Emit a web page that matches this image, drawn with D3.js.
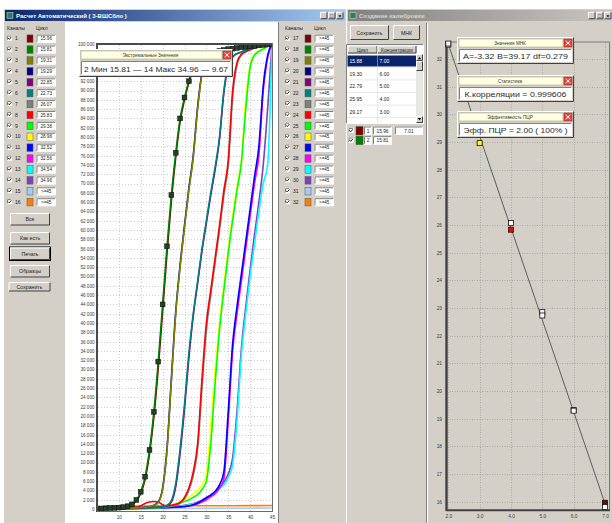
<!DOCTYPE html>
<html>
<head>
<meta charset="utf-8">
<script src="https://cdn.jsdelivr.net/npm/d3@7"></script>
<style>
  body { margin: 0; background: #ffffff; }
  svg { display: block; }
  text { font-family: "Liberation Sans", Arial, sans-serif; fill: #1a1a1a; }
</style>
</head>
<body>
<svg id="screen" width="612" height="523"></svg>
<script>
// ---------------- data ----------------
const channelsLeft  = [1, 2, 3, 4, 5, 6, 7, 8, 9, 10, 11, 12, 13, 14, 15, 16];
const channelsRight = [17, 18, 19, 20, 21, 22, 23, 24, 25, 26, 27, 28, 29, 30, 31, 32];
const channelColors = ['#800000', '#008000', '#808000', '#000080', '#800080', '#008080', '#808080', '#ff0000',
                       '#00ff00', '#ffff00', '#0000ff', '#ff00ff', '#00ffff', '#8040c0', '#a6caf0', '#ff8000'];
const ctLeft  = ['15.96', '15.81', '19.31', '19.29', '22.85', '22.73', '26.07', '25.83',
                 '29.38', '28.96', '32.52', '32.56', '34.54', '34.96', '>=45', '>=45'];
const ctRight = ['>=45', '>=45', '>=45', '>=45', '>=45', '>=45', '>=45', '>=45',
                 '>=45', '>=45', '>=45', '>=45', '>=45', '>=45', '>=45', '>=45'];

// normalised fluorescence per channel: [cycle, value]
const amp01 = [[5,0],[8,180],[10,280],[12,550],[13,900],[14,1750],[15,3400],[16,6400],[17,11900],[18,19800],[19,30300],[20,42500],[21,55000],[22,66300],[23,75700],[24,83300],[25,88000],[26,91700],[27,94700],[28,96400],[30,97700],[35,98800],[40,99400],[45,100000]];
const amp02 = [[5,0],[6,80],[7,150],[8,200],[9,250],[10,300],[11,400],[12,600],[13,1000],[14,1940],[15,3700],[16,6950],[17,12700],[18,20900],[19,31700],[20,44000],[21,56500],[22,67500],[23,76600],[24,84000],[25,88500],[26,92000],[27,95000],[28,96600],[29,97300],[30,97800],[31,98100],[32,98300],[33,98500],[34,98700],[35,98900],[36,99000],[37,99150],[38,99300],[39,99400],[40,99500],[41,99600],[42,99700],[43,99800],[44,99900],[45,100000]];
const amp03 = [[5,0],[10,120],[15,300],[17,500],[18,800],[19,1400],[20,4200],[21,12500],[22,27500],[23,42000],[24,52000],[25,60500],[26,68500],[27,75500],[28,86000],[29,93500],[30,96800],[32,98000],[35,98900],[40,99500],[45,100000]];
const amp04 = [[5,0],[10,100],[15,280],[17,480],[18,820],[19,1500],[20,4500],[21,13000],[22,28000],[23,42500],[24,52500],[25,61000],[26,69000],[27,76000],[28,86500],[29,93800],[30,96900],[32,98100],[35,98900],[40,99500],[45,100000]];
const amp05 = [[5,0],[15,200],[20,450],[21,700],[22,1500],[23,4800],[24,12000],[25,21500],[26,32500],[27,41500],[28,48500],[29,55500],[30,61500],[31,67500],[32,73000],[33,79500],[34,89500],[35,95200],[36,97200],[38,98300],[40,99000],[45,100000]];
const amp06 = [[5,0],[15,200],[20,500],[21,800],[22,1800],[23,5500],[24,13000],[25,22500],[26,33500],[27,42000],[28,49000],[29,56000],[30,62000],[31,68000],[32,73500],[33,80000],[34,90000],[35,95500],[36,97300],[38,98300],[40,99000],[45,100000]];
const amp07 = [[5,0],[10,150],[15,350],[20,500],[22,600],[23,800],[24,1200],[25,2200],[26,4000],[27,7200],[28,13000],[29,26000],[30,38500],[31,46000],[32,53000],[33,60000],[34,67500],[35,74000],[36,88500],[37,95500],[38,97600],[40,98700],[45,100000]];
const amp08 = [[5,0],[10,200],[14,400],[15,700],[16,1200],[17,1500],[18,1600],[19,1500],[20,900],[21,700],[22,800],[23,1000],[24,1400],[25,2500],[26,4500],[27,8000],[28,14000],[29,28000],[30,40000],[31,47000],[32,54000],[33,61000],[34,68500],[35,75000],[36,90000],[37,96000],[38,97800],[40,98800],[45,100000]];
const amp09 = [[5,0],[15,150],[20,350],[22,700],[24,1300],[26,2000],[27,2500],[28,3100],[29,4200],[30,6000],[31,14000],[32,27000],[33,38500],[34,47000],[35,55000],[36,62000],[37,68500],[38,74500],[39,86000],[40,95000],[41,97600],[43,98900],[45,100000]];
const amp10 = [[5,0],[15,200],[20,400],[21,600],[22,900],[23,1200],[24,1600],[25,2100],[26,2600],[27,3200],[28,4000],[29,5200],[30,7500],[31,18000],[32,30000],[33,40000],[34,48000],[35,56000],[36,63000],[37,69500],[38,75000],[39,88000],[40,95500],[41,97800],[43,99000],[45,100000]];
const amp11 = [[5,0],[15,150],[20,300],[25,550],[27,900],[28,1300],[29,1800],[30,2400],[31,3000],[32,3800],[33,5200],[34,8000],[35,21000],[36,35500],[37,43500],[38,50500],[39,57500],[40,64500],[41,71500],[42,78000],[43,91000],[44,97500],[45,100000]];
const amp12 = [[5,0],[15,150],[20,300],[25,500],[27,800],[28,1100],[29,1500],[30,2000],[31,2600],[32,3300],[33,4500],[34,6500],[35,19000],[36,34000],[37,42000],[38,49000],[39,56000],[40,63000],[41,70000],[42,76000],[43,90000],[44,97000],[45,100000]];
const amp13 = [[5,0],[15,100],[20,250],[23,450],[25,700],[27,1100],[29,1700],[30,2300],[31,2800],[32,3500],[33,4300],[34,5200],[35,6800],[36,9500],[37,19000],[38,33000],[39,42000],[40,50000],[41,57000],[42,64000],[43,70000],[44,74000],[45,100000]];
const amp14 = [[5,0],[15,120],[20,280],[23,500],[25,800],[27,1200],[29,1900],[30,2500],[31,3000],[32,3700],[33,4600],[34,5800],[35,7500],[36,11000],[37,21000],[38,34500],[39,43500],[40,51500],[41,59000],[42,66000],[43,74000],[44,86000],[45,100000]];
const amp15 = [[5,0],[15,50],[25,100],[35,150],[45,200]];
const amp16 = [[5,600],[15,650],[25,700],[35,700],[45,750]];
const ampSeries = [amp01, amp02, amp03, amp04, amp05, amp06, amp07, amp08, amp09, amp10, amp11, amp12, amp13, amp14, amp15, amp16];
const drawOrder = [16, 15, 14, 13, 12, 11, 10, 9, 7, 8, 5, 6, 4, 3, 1, 2];
const markedChannel = 2;

const cycleTicks = [10, 15, 20, 25, 30, 35, 40, 45];
const extremeText = '2 Мин 15.81 — 14 Макс 34.96 — 9.67';

// calibration (standards)
const stdCycle = [15.88, 19.30, 22.79, 25.95, 29.17, 32.54];
const stdConc  = [7, 6, 5, 4, 3, 2];
const pointChannel = [1, 2, 3, 4, 5, 6, 7, 8, 9, 10, 11, 12];
const pointConc    = [7, 7, 6, 6, 5, 5, 4, 4, 3, 3, 2, 2];
const pointCycle   = [15.96, 15.81, 19.31, 19.29, 22.85, 22.73, 26.07, 25.83, 29.38, 28.96, 32.52, 32.56];
const filledPoints = [1, 8, 9, 10];
const fitA = -3.32, fitB = 39.17, fitDf = 0.279;
const correlation = '0.999606';
const efficiency = '2.00', efficiencyPct = '100%';
const concTicks = [2, 3, 4, 5, 6, 7];
const calCycleTicks = [16, 17, 18, 19, 20, 21, 22, 23, 24, 25, 26, 27, 28, 29, 30, 31, 32];
const sampleRows = [{ ch: 1, ct: '15.96', conc: '7.01' }, { ch: 2, ct: '15.81', conc: '' }];

// ---------------- helpers ----------------
const face = '#d4d0c8', shadow = '#808080', dark = '#404040', hi = '#ffffff';
const svg = d3.select('#screen');
const defs = svg.append('defs');

function bevel(g, x, y, w, h, mode, fill) {
  const r = g.append('g');
  r.append('rect').attr('x', x).attr('y', y).attr('width', w).attr('height', h).attr('fill', fill || face);
  const tl = mode === 'sunken' ? shadow : hi;
  const br = mode === 'sunken' ? hi : dark;
  r.append('path').attr('d', `M${x + .5},${y + h - .5}V${y + .5}H${x + w - .5}`).attr('fill', 'none').attr('stroke', tl);
  r.append('path').attr('d', `M${x + .5},${y + h - .5}H${x + w - .5}V${y + .5}`).attr('fill', 'none').attr('stroke', br);
  return r;
}
function label(g, x, y, str, size, anchor, color, weight) {
  return g.append('text').attr('x', x).attr('y', y).attr('font-size', size)
    .attr('text-anchor', anchor || 'start').style('fill', color || '#1a1a1a')
    .attr('font-weight', weight || 'normal').text(str);
}
function button(g, x, y, w, h, str, isDefault) {
  if (isDefault) g.append('rect').attr('x', x - .5).attr('y', y - .5).attr('width', w + 1).attr('height', h + 1)
    .attr('fill', 'none').attr('stroke', '#000');
  bevel(g, x, y, w, h, 'raised');
  label(g, x + w / 2, y + h / 2 + 2, str, 5.2, 'middle');
}
function checkbox(g, x, y) {
  bevel(g, x, y, 5, 5, 'sunken', '#ffffff');
  g.append('path').attr('d', `M${x + 1},${y + 2.4}l1.3,1.4l2.1,-2.6`).attr('fill', 'none')
    .attr('stroke', '#000').attr('stroke-width', .8);
}
function titleButtons(g, x, y) {
  ['_', '□', '×'].forEach((s, i) => {
    bevel(g, x + i * 8, y, 7.5, 7.5, 'raised');
    label(g, x + i * 8 + 3.75, y + 6, s, 5.5, 'middle', '#000', 'bold');
  });
}
function popup(g, x, y, w, h, title, body, bodyWidth) {
  bevel(g, x, y, w, h, 'raised');
  g.append('rect').attr('x', x + 2).attr('y', y + 2).attr('width', w - 13).attr('height', 8)
    .attr('fill', '#ffffe1').attr('stroke', '#9a9a8a').attr('stroke-width', .5);
  label(g, x + (w - 11) / 2, y + 8, title, 4.6, 'middle', '#333');
  g.append('rect').attr('x', x + w - 10).attr('y', y + 2).attr('width', 8).attr('height', 8).attr('fill', '#e8473f')
    .attr('stroke', '#8a1a10').attr('stroke-width', .5);
  g.append('path').attr('d', `M${x + w - 8.3},${y + 3.7}l4.6,4.6M${x + w - 3.7},${y + 3.7}l-4.6,4.6`)
    .attr('stroke', '#fff').attr('stroke-width', 1);
  bevel(g, x + 2, y + 12, w - 4, h - 14, 'sunken', '#ffffff');
  label(g, x + w / 2, y + h - 4.6, body, 8, 'middle', '#2a2a2a')
    .attr('textLength', bodyWidth).attr('lengthAdjust', 'spacingAndGlyphs');
}
function titleBar(g, x, y, w, h, id, c0, c1, str, color) {
  const gr = defs.append('linearGradient').attr('id', id);
  gr.append('stop').attr('offset', '0%').attr('stop-color', c0);
  gr.append('stop').attr('offset', '100%').attr('stop-color', c1);
  g.append('rect').attr('x', x).attr('y', y).attr('width', w).attr('height', h).attr('fill', `url(#${id})`);
  g.append('rect').attr('x', x + 2).attr('y', y + 2.5).attr('width', 6).attr('height', 6).attr('fill', '#2f7f5f')
    .attr('stroke', '#cfe8d0').attr('stroke-width', .5);
  label(g, x + 11, y + 8, str, 6, 'start', color, 'bold');
}

// ---------------- left window ----------------
const win1 = svg.append('g');
bevel(win1, 3, 8, 344, 516, 'raised');
titleBar(win1, 5, 10, 340, 11, 'tb1', '#0a246a', '#a6caf0', 'Расчет Автоматический ( 3-ВШСбло )', '#ffffff');
titleButtons(win1, 320, 11.8);

// channel lists
function channelPanel(g, x0, nums, cts, colors) {
  label(g, x0, 29.5, 'Каналы', 5, 'start', '#222');
  label(g, x0 + 29, 29.5, 'Цикл', 5, 'start', '#222');
  nums.forEach((n, i) => {
    const cy = 38.3 + i * 10.9;
    checkbox(g, x0, cy - 2.7);
    label(g, x0 + 8, cy + 2, String(n), 5, 'start', '#222');
    g.append('rect').attr('x', x0 + 20).attr('y', cy - 3.4).attr('width', 6).attr('height', 7.5)
      .attr('fill', colors[i]).attr('stroke', '#555').attr('stroke-width', .5);
    bevel(g, x0 + 29.5, cy - 3.6, 19.5, 8, 'sunken', '#ffffff');
    label(g, x0 + 39.2, cy + 2, cts[i], 4.6, 'middle', '#222');
  });
}
channelPanel(win1, 7, channelsLeft, ctLeft, channelColors);
channelPanel(win1, 285, channelsRight, ctRight, channelColors);

button(win1, 10, 213, 40, 12.5, 'Все');
button(win1, 10, 232, 40, 12.5, 'Как есть');
button(win1, 10, 247.5, 40, 12.5, 'Печать', true);
button(win1, 10, 265, 40, 12.5, 'Образцы');
button(win1, 8.5, 282, 42, 9.5, 'Сохранить');

// chart area
win1.append('rect').attr('x', 65).attr('y', 22).attr('width', 213).attr('height', 502).attr('fill', '#ffffff');
win1.append('line').attr('x1', 278.5).attr('x2', 278.5).attr('y1', 22).attr('y2', 523).attr('stroke', shadow);

const xL = d3.scaleLinear().domain([5, 45]).range([97, 272]);
const yL = d3.scaleLinear().domain([0, 100000]).range([509, 44]);
const yTicksL = d3.range(0, 100001, 2000);
const numFmt = v => v === 0 ? '0' : d3.format(',')(v).replace(/,/g, ' ');
// the popup below sits over these labels
const popupBox = { x: 79, y: 49, w: 154, h: 28 };
const yLabelTicks = yTicksL.filter(v => yL(v) < popupBox.y - 3 || yL(v) > popupBox.y + popupBox.h + 3);

const grid = win1.append('g');
grid.selectAll('line.h').data(yTicksL.slice(1, -1)).join('line').attr('class', 'h')
  .attr('x1', 98).attr('x2', 272).attr('y1', d => Math.round(yL(d)) + .5).attr('y2', d => Math.round(yL(d)) + .5)
  .attr('stroke', '#9a9a9a').attr('stroke-width', .5).attr('stroke-dasharray', '1,2');
grid.selectAll('line.v').data(cycleTicks.slice(0, -1)).join('line').attr('class', 'v')
  .attr('y1', 45).attr('y2', 511).attr('x1', d => Math.round(xL(d)) + .5).attr('x2', d => Math.round(xL(d)) + .5)
  .attr('stroke', '#9a9a9a').attr('stroke-width', .5).attr('stroke-dasharray', '1,2');

const yAxisL = win1.append('g').attr('transform', 'translate(96,0)')
  .call(d3.axisLeft(yL).tickValues(yLabelTicks).tickSize(0).tickPadding(1.5).tickFormat(numFmt));
yAxisL.select('.domain').remove();
yAxisL.selectAll('text').attr('font-size', 4.6).style('fill', '#3a3a3a')
  .attr('font-family', '"Liberation Sans", Arial, sans-serif');

const xAxisL = win1.append('g').attr('transform', 'translate(0,512)')
  .call(d3.axisBottom(xL).tickValues(cycleTicks).tickSize(0).tickPadding(3.5));
xAxisL.select('.domain').remove();
xAxisL.selectAll('text').attr('font-size', 4.8).style('fill', '#3a3a3a')
  .attr('font-family', '"Liberation Sans", Arial, sans-serif');

defs.append('clipPath').attr('id', 'clipL').append('rect').attr('x', 97).attr('y', 43).attr('width', 176).attr('height', 469);
const curves = win1.append('g').attr('clip-path', 'url(#clipL)');
const lineL = d3.line().x(d => xL(d[0])).y(d => yL(d[1])).curve(d3.curveMonotoneX);
drawOrder.forEach(ch => {
  curves.append('path').datum(ampSeries[ch - 1]).attr('d', lineL).attr('fill', 'none')
    .attr('stroke', channelColors[ch - 1]).attr('stroke-width', 1.6);
});
curves.selectAll('rect.mk').data(ampSeries[markedChannel - 1]).join('rect').attr('class', 'mk')
  .attr('x', d => xL(d[0]) - 2.4).attr('y', d => yL(d[1]) - 2.4).attr('width', 4.8).attr('height', 4.8)
  .attr('fill', '#24402a').attr('stroke', '#0a0a0a').attr('stroke-width', .5);

// plot frame
win1.append('line').attr('x1', 97).attr('x2', 97).attr('y1', 43).attr('y2', 512).attr('stroke', '#4a4a4a').attr('stroke-width', 2);
win1.append('line').attr('x1', 96).attr('x2', 273).attr('y1', 44).attr('y2', 44).attr('stroke', '#4a4a4a').attr('stroke-width', 2);
win1.append('line').attr('x1', 272.5).attr('x2', 272.5).attr('y1', 43).attr('y2', 512).attr('stroke', '#6a6a6a');
win1.append('line').attr('x1', 97).attr('x2', 273).attr('y1', 511.5).attr('y2', 511.5).attr('stroke', '#6a6a6a');

popup(win1, popupBox.x, popupBox.y, popupBox.w, popupBox.h, 'Экстремальные Значения', extremeText, 144);

// ---------------- right window ----------------
const win2 = svg.append('g');
bevel(win2, 346, 8, 268, 516, 'raised');
titleBar(win2, 348, 10, 264, 11, 'tb2', '#808080', '#c8c6c0', 'Создание калибровки', '#d8d6d0');
titleButtons(win2, 588, 11.8);

button(win2, 350, 25, 39, 15, 'Сохранить');
button(win2, 393, 25, 27, 15, 'МНК');

// standards table
bevel(win2, 346, 44, 78, 80, 'sunken', '#ffffff');
bevel(win2, 347.5, 45.5, 30, 8, 'raised');
bevel(win2, 377.5, 45.5, 39, 8, 'raised');
label(win2, 362.5, 51.5, 'Цикл', 4.8, 'middle', '#222');
label(win2, 397, 51.5, 'Концентрации', 4.8, 'middle', '#222');
const rowFmt = d3.format('.2f');
stdCycle.slice(0, 5).forEach((c, i) => {
  const ry = 55.5 + i * 12.6;
  if (i === 0) win2.append('rect').attr('x', 347.5).attr('y', ry).attr('width', 68.5).attr('height', 11).attr('fill', '#0a246a');
  const col = i === 0 ? '#ffffff' : '#222';
  label(win2, 349.5, ry + 7.6, rowFmt(c), 5, 'start', col);
  label(win2, 379.5, ry + 7.6, rowFmt(stdConc[i]), 5, 'start', col);
  win2.append('line').attr('x1', 347.5).attr('x2', 416).attr('y1', ry + 11.8).attr('y2', ry + 11.8).attr('stroke', '#d0d0d0').attr('stroke-width', .5);
});
win2.append('line').attr('x1', 377.5).attr('x2', 377.5).attr('y1', 54).attr('y2', 123).attr('stroke', '#d0d0d0').attr('stroke-width', .5);
win2.append('rect').attr('x', 416).attr('y', 54).attr('width', 7).attr('height', 69).attr('fill', '#e9e7e2');
bevel(win2, 416, 54, 7, 7, 'raised');
bevel(win2, 416, 61, 7, 10, 'raised');
bevel(win2, 416, 116, 7, 7, 'raised');
win2.append('path').attr('d', 'M417.8,59.2h3.4l-1.7,-2.2z').attr('fill', '#000');
win2.append('path').attr('d', 'M417.8,118h3.4l-1.7,2.2z').attr('fill', '#000');

sampleRows.forEach((r, i) => {
  const ry = 126.5 + i * 9.6;
  checkbox(win2, 348.5, ry + 1.5);
  win2.append('rect').attr('x', 356).attr('y', ry).attr('width', 7).attr('height', 8.5)
    .attr('fill', channelColors[r.ch - 1]).attr('stroke', '#555').attr('stroke-width', .5);
  bevel(win2, 364, ry, 8, 8.5, 'sunken', '#ffffff');
  label(win2, 368, ry + 6.2, String(r.ch), 4.8, 'middle', '#222');
  bevel(win2, 373, ry, 19, 8.5, 'sunken', '#ffffff');
  label(win2, 382.5, ry + 6.2, r.ct, 4.8, 'middle', '#222');
  if (r.conc) {
    bevel(win2, 395, ry, 28, 8.5, 'sunken', '#ffffff');
    label(win2, 409, ry + 6.2, r.conc, 4.8, 'middle', '#222');
  }
});

// calibration chart panel
win2.append('line').attr('x1', 426.5).attr('x2', 426.5).attr('y1', 23).attr('y2', 523).attr('stroke', shadow);
win2.append('line').attr('x1', 427.5).attr('x2', 427.5).attr('y1', 23).attr('y2', 523).attr('stroke', hi);

const xR = d3.scaleLinear().domain([2, 7]).range([448.3, 605]);
const yR = d3.scaleLinear().domain([16, 32]).range([501.7, 59]);
const gridR = win2.append('g');
gridR.selectAll('line.h').data(calCycleTicks).join('line').attr('class', 'h')
  .attr('x1', 447).attr('x2', 609).attr('y1', d => Math.round(yR(d)) + .5).attr('y2', d => Math.round(yR(d)) + .5)
  .attr('stroke', '#8e8e8e').attr('stroke-width', .6).attr('stroke-dasharray', '1,1.5');
gridR.selectAll('line.v').data(concTicks).join('line').attr('class', 'v')
  .attr('y1', 42).attr('y2', 510).attr('x1', d => Math.round(xR(d)) + .5).attr('x2', d => Math.round(xR(d)) + .5)
  .attr('stroke', '#8e8e8e').attr('stroke-width', .6).attr('stroke-dasharray', '1,1.5');

const yAxisR = win2.append('g').attr('transform', 'translate(442,0)')
  .call(d3.axisLeft(yR).tickValues(calCycleTicks).tickSize(0).tickPadding(0));
yAxisR.select('.domain').remove();
yAxisR.selectAll('text').attr('font-size', 4.8).style('fill', '#3a3a3a')
  .attr('font-family', '"Liberation Sans", Arial, sans-serif');
const xAxisR = win2.append('g').attr('transform', 'translate(0,511)')
  .call(d3.axisBottom(xR).tickValues(concTicks).tickSize(0).tickPadding(3.5));
xAxisR.select('.domain').remove();
xAxisR.selectAll('text').attr('font-size', 4.8).style('fill', '#3a3a3a')
  .attr('font-family', '"Liberation Sans", Arial, sans-serif');

win2.append('line').attr('x1', 446).attr('x2', 610).attr('y1', 42).attr('y2', 42).attr('stroke', '#7a7a7a').attr('stroke-width', 1);
win2.append('line').attr('x1', 609.5).attr('x2', 609.5).attr('y1', 42).attr('y2', 510).attr('stroke', '#7a7a7a').attr('stroke-width', 1);

const lineR = d3.line().x(d => xR(d)).y(d => yR(fitB + fitA * d));
win2.append('path').datum([2, 7]).attr('d', lineR).attr('fill', 'none').attr('stroke', '#505050').attr('stroke-width', .9);

win2.append('line').attr('x1', 446.5).attr('x2', 446.5).attr('y1', 41).attr('y2', 511).attr('stroke', '#404040').attr('stroke-width', 2.4);
win2.append('line').attr('x1', 446).attr('x2', 610).attr('y1', 510.2).attr('y2', 510.2).attr('stroke', '#404040').attr('stroke-width', 2);

win2.selectAll('rect.pt').data(pointChannel).join('rect').attr('class', 'pt')
  .attr('x', (d, i) => xR(pointConc[i]) - 2.5).attr('y', (d, i) => yR(pointCycle[i]) - 2.5)
  .attr('width', 5).attr('height', 5)
  .attr('fill', d => filledPoints.includes(d) ? channelColors[d - 1] : '#ffffff')
  .attr('stroke', '#111').attr('stroke-width', .8);

popup(win2, 457, 37, 117, 27, 'Значения МНК', `A=${fitA.toFixed(2)} B=${fitB.toFixed(2)} df=${fitDf}`, 105);
popup(win2, 457, 75, 117, 27, 'Статистика', `К.корреляции = ${correlation}`, 102);
popup(win2, 457, 111, 117, 27, 'Эффективность ПЦР', `Эфф. ПЦР = ${efficiency} ( ${efficiencyPct} )`, 104);
</script>
</body>
</html>
